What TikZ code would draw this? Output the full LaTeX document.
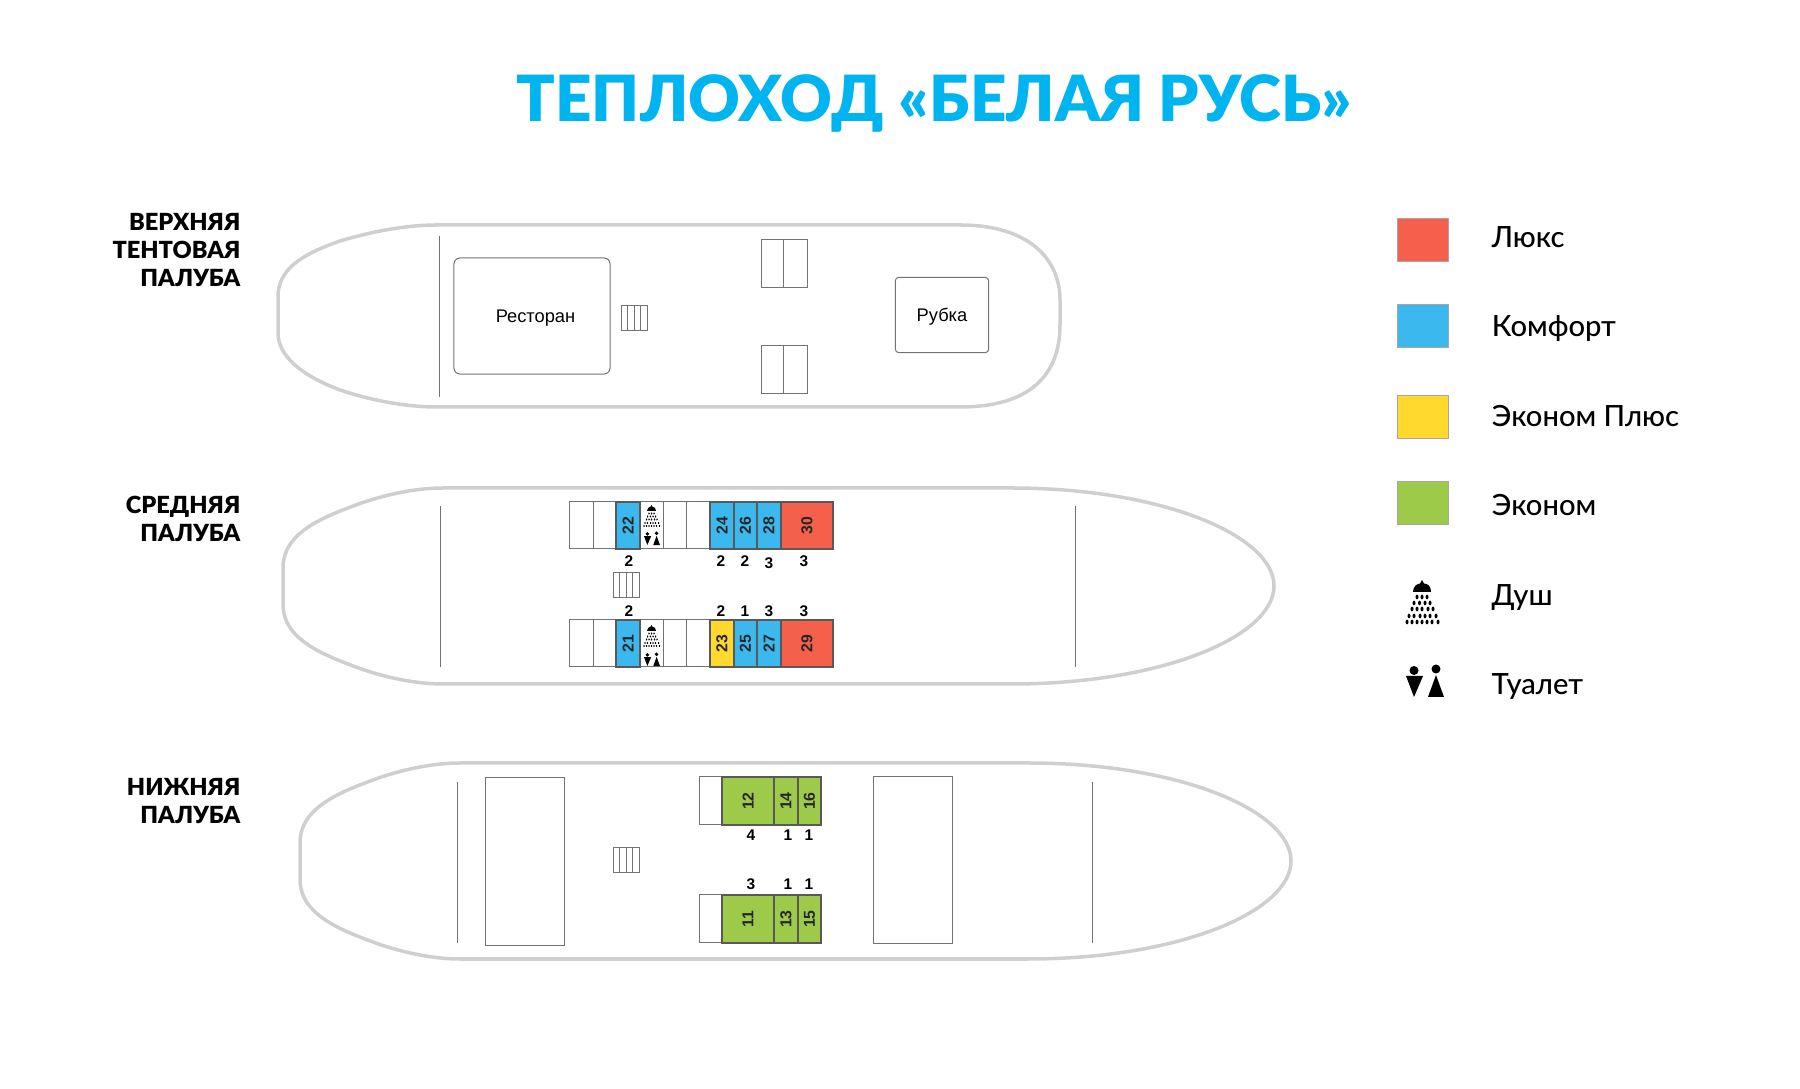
\documentclass[tikz,border=0pt]{standalone}
\usepackage{fontspec}
\setmainfont{Lato}
\newfontfamily\heavyfont{Lato Black}
\newfontfamily\mediumfont{Lato Medium}
\newfontfamily\plainfont{Liberation Sans}
\usetikzlibrary{positioning, calc}
\definecolor{titleblue}{HTML}{00B4EF}
\definecolor{hullgray}{HTML}{CFCFCF}
\definecolor{luxred}{HTML}{F4604C}
\definecolor{comfblue}{HTML}{3BB8EE}
\definecolor{ecoyellow}{HTML}{FFD92E}
\definecolor{ecogreen}{HTML}{9DCB49}

\tikzset{
  hull/.style={draw=hullgray, line width=.035cm},
  wall/.style={draw=black!55, line width=.01cm},
  cabin/.style={draw=black!65, line width=.012cm},
  cabinno/.style={font=\plainfont\bfseries\fontsize{4.5}{4.5}\selectfont, rotate=90, inner sep=0pt, text=black!85},
  berths/.style={font=\plainfont\bfseries\fontsize{4.4}{4.4}\selectfont, inner sep=0pt},
  decklabel/.style={font=\heavyfont\fontsize{6.7}{8}\selectfont, align=right, anchor=east, inner sep=0pt},
  roomlabel/.style={font=\plainfont\fontsize{5.2}{5.2}\selectfont, inner sep=0pt, text depth=0pt},
  swatch/.style={draw=black!35, line width=.012cm, minimum width=.51cm, minimum height=.43cm, inner sep=0pt},
  legendlabel/.style={font=\mediumfont\fontsize{8.3}{8.3}\selectfont, inner sep=0pt, anchor=west},
  showericon/.pic={
    \fill (8,12) .. controls (8,6) and (12,4) .. (15,3.5) -- (17,0) -- (19,3.5) .. controls (23,4) and (26,6) .. (26,12) -- cycle;
    \foreach \rowy/\rowx in {17/{12,17,22}, 23/{9,14.5,20,25}, 29/{7,12,17,23,28}, 36/{4,9,15,20,25,31}, 42/{2,7,12,17,22,27,33}}
      \foreach \dotx in \rowx
        \fill (\dotx,\rowy) ellipse [x radius=1.5, y radius=2.4];
  },
  toileticon/.pic={
    \fill (8,4.5) circle [radius=4.5];
    \fill (0,10) -- (17,10) -- (8,31) -- cycle;
    \fill (30,3) circle [radius=4.5];
    \fill (22,31) -- (38,31) -- (30,9) -- cycle;
  },
  stairs/.pic={
    \draw[wall] (0,0) rectangle (26,25);
    \foreach \sx in {6.5,13,19.5}
      \draw[wall] (\sx,0) -- (\sx,25);
  },
  shiphull/.pic={
    \draw[hull] (0,-18) .. controls (0,-45) and (22,-62) .. (65,-78)
      .. controls (95,-90) and (130,-98) .. (160,-98)
      -- (728,-98) .. controls (880,-98) and (991,-50) .. (991,0)
      .. controls (991,50) and (880,98) .. (728,98)
      -- (160,98) .. controls (130,98) and (95,90) .. (65,78)
      .. controls (22,62) and (0,45) .. (0,18) -- cycle;
  },
}

\begin{document}
\begin{tikzpicture}[x=.01cm, y=-.01cm]
  \useasboundingbox (0,0) rectangle (1800,1089);

  \node[font=\heavyfont\fontsize{18.1}{18.1}\selectfont, text=titleblue, inner sep=0pt, anchor=base] (title) at (934,122) {ТЕПЛОХОД «БЕЛАЯ РУСЬ»};

  % deck names
  \node[decklabel] (upperlabel) at (241,250) {ВЕРХНЯЯ\\ТЕНТОВАЯ\\ПАЛУБА};
  \node[decklabel] (midlabel) at (241,519) {СРЕДНЯЯ\\ПАЛУБА};
  \node[decklabel] (lowlabel) at (241,801) {НИЖНЯЯ\\ПАЛУБА};

  % upper deck
  \draw[hull] (278,297) .. controls (278,270) and (300,255) .. (340,241)
    .. controls (370,232) and (405,225) .. (437,225)
    -- (960,225) .. controls (1030,225) and (1060,260) .. (1060,300)
    -- (1060,325) .. controls (1060,375) and (1030,407) .. (960,407)
    -- (437,407) .. controls (405,407) and (370,400) .. (340,390)
    .. controls (300,375) and (278,355) .. (278,333) -- cycle;
  \draw[wall] (439,236) -- (439,397);
  \node[draw=black!55, line width=.01cm, rounded corners=.06cm, minimum width=1.56cm, minimum height=1.16cm, roomlabel] (restaurant) at (532,316) {\hspace{.07cm}Ресторан};
  \pic at (621,306) {stairs};
  \foreach \doory in {240,346} {
    \draw[wall] (761,\doory) rectangle (807,\doory+48);
    \draw[wall] (783,\doory) -- (783,\doory+48);
  }
  \node[draw=black!55, line width=.01cm, rounded corners=.03cm, minimum width=.93cm, minimum height=.75cm, roomlabel] (wheelhouse) at (942,315) {Рубка\hspace{.06cm}};

  % middle deck
  \pic at (283,586) {shiphull};
  \draw[wall] (440,506) -- (440,667);
  \draw[wall] (1075,506) -- (1075,667);
  \foreach \cy in {502,620} {
    \foreach \xa/\xb in {569/593,593/616,640/663,663/686,686/710}
      \draw[wall] (\xa,\cy) rectangle (\xb,\cy+47);
  }
  \foreach \xa/\xb/\cy/\col/\no in {616/640/502/comfblue/22, 710/734/502/comfblue/24, 734/757/502/comfblue/26, 757/781/502/comfblue/28, 781/833/502/luxred/30,
      616/640/620/comfblue/21, 710/734/620/ecoyellow/23, 734/757/620/comfblue/25, 757/781/620/comfblue/27, 781/833/620/luxred/29} {
    \draw[cabin, fill=\col] (\xa,\cy) rectangle (\xb,\cy+47);
    \node[cabinno] (cabin\no) at ({(\xa+\xb)/2},\cy+24) {\no};
  }
  \pic[scale=.5] at (643,505) {showericon};
  \pic[scale=.42] at (644,532) {toileticon};
  \pic[scale=.5] at (643,625) {showericon};
  \pic[scale=.42] at (644,653) {toileticon};
  \pic at (613,573) {stairs};
  \foreach \bx/\by/\bn [count=\bi] in {629/561/2, 721/561/2, 745/561/2, 769/563/3, 804/561/3, 629/611/2, 721/611/2, 745/611/1, 769/611/3, 804/611/3}
    \node[berths] (midberth\bi) at (\bx,\by) {\bn};

  % lower deck
  \pic at (300,861) {shiphull};
  \draw[wall] (457,782) -- (457,943);
  \draw[wall] (1092,782) -- (1092,943);
  \draw[wall] (485,778) rectangle (564,946);
  \draw[wall] (873,777) rectangle (952,944);
  \foreach \cy in {777,895}
    \draw[wall] (699,\cy) rectangle (722,\cy+48);
  \foreach \xa/\xb/\cy/\no in {722/774/777/12, 774/798/777/14, 798/821/777/16, 722/774/895/11, 774/798/895/13, 798/821/895/15} {
    \draw[cabin, fill=ecogreen] (\xa,\cy) rectangle (\xb,\cy+48);
    \node[cabinno] (cabin\no) at ({(\xa+\xb)/2},\cy+24) {\no};
  }
  \pic at (613,848) {stairs};
  \foreach \bx/\by/\bn [count=\bi] in {751/835/4, 788/835/1, 809/835/1, 751/884/3, 788/884/1, 809/884/1}
    \node[berths] (lowberth\bi) at (\bx,\by) {\bn};

  % legend
  \foreach \ly/\col/\txt/\sh [count=\li] in {240/luxred/Люкс/-2.5, 326/comfblue/Комфорт/2.5, 417/ecoyellow/Эконом Плюс/-1, 503/ecogreen/Эконом/2.5} {
    \node[swatch, fill=\col] (swatch\li) at (1423,\ly) {};
    \node[legendlabel, right=.42cm of swatch\li, yshift=-\sh*.01cm] (legend\li) {\txt};
  }
  \pic at (1405,580) {showericon};
  \node[legendlabel] (legend5) at (1491,598) {Душ};
  \pic at (1406,666) {toileticon};
  \node[legendlabel] (legend6) at (1491,687) {Туалет};
\end{tikzpicture}
\end{document}
